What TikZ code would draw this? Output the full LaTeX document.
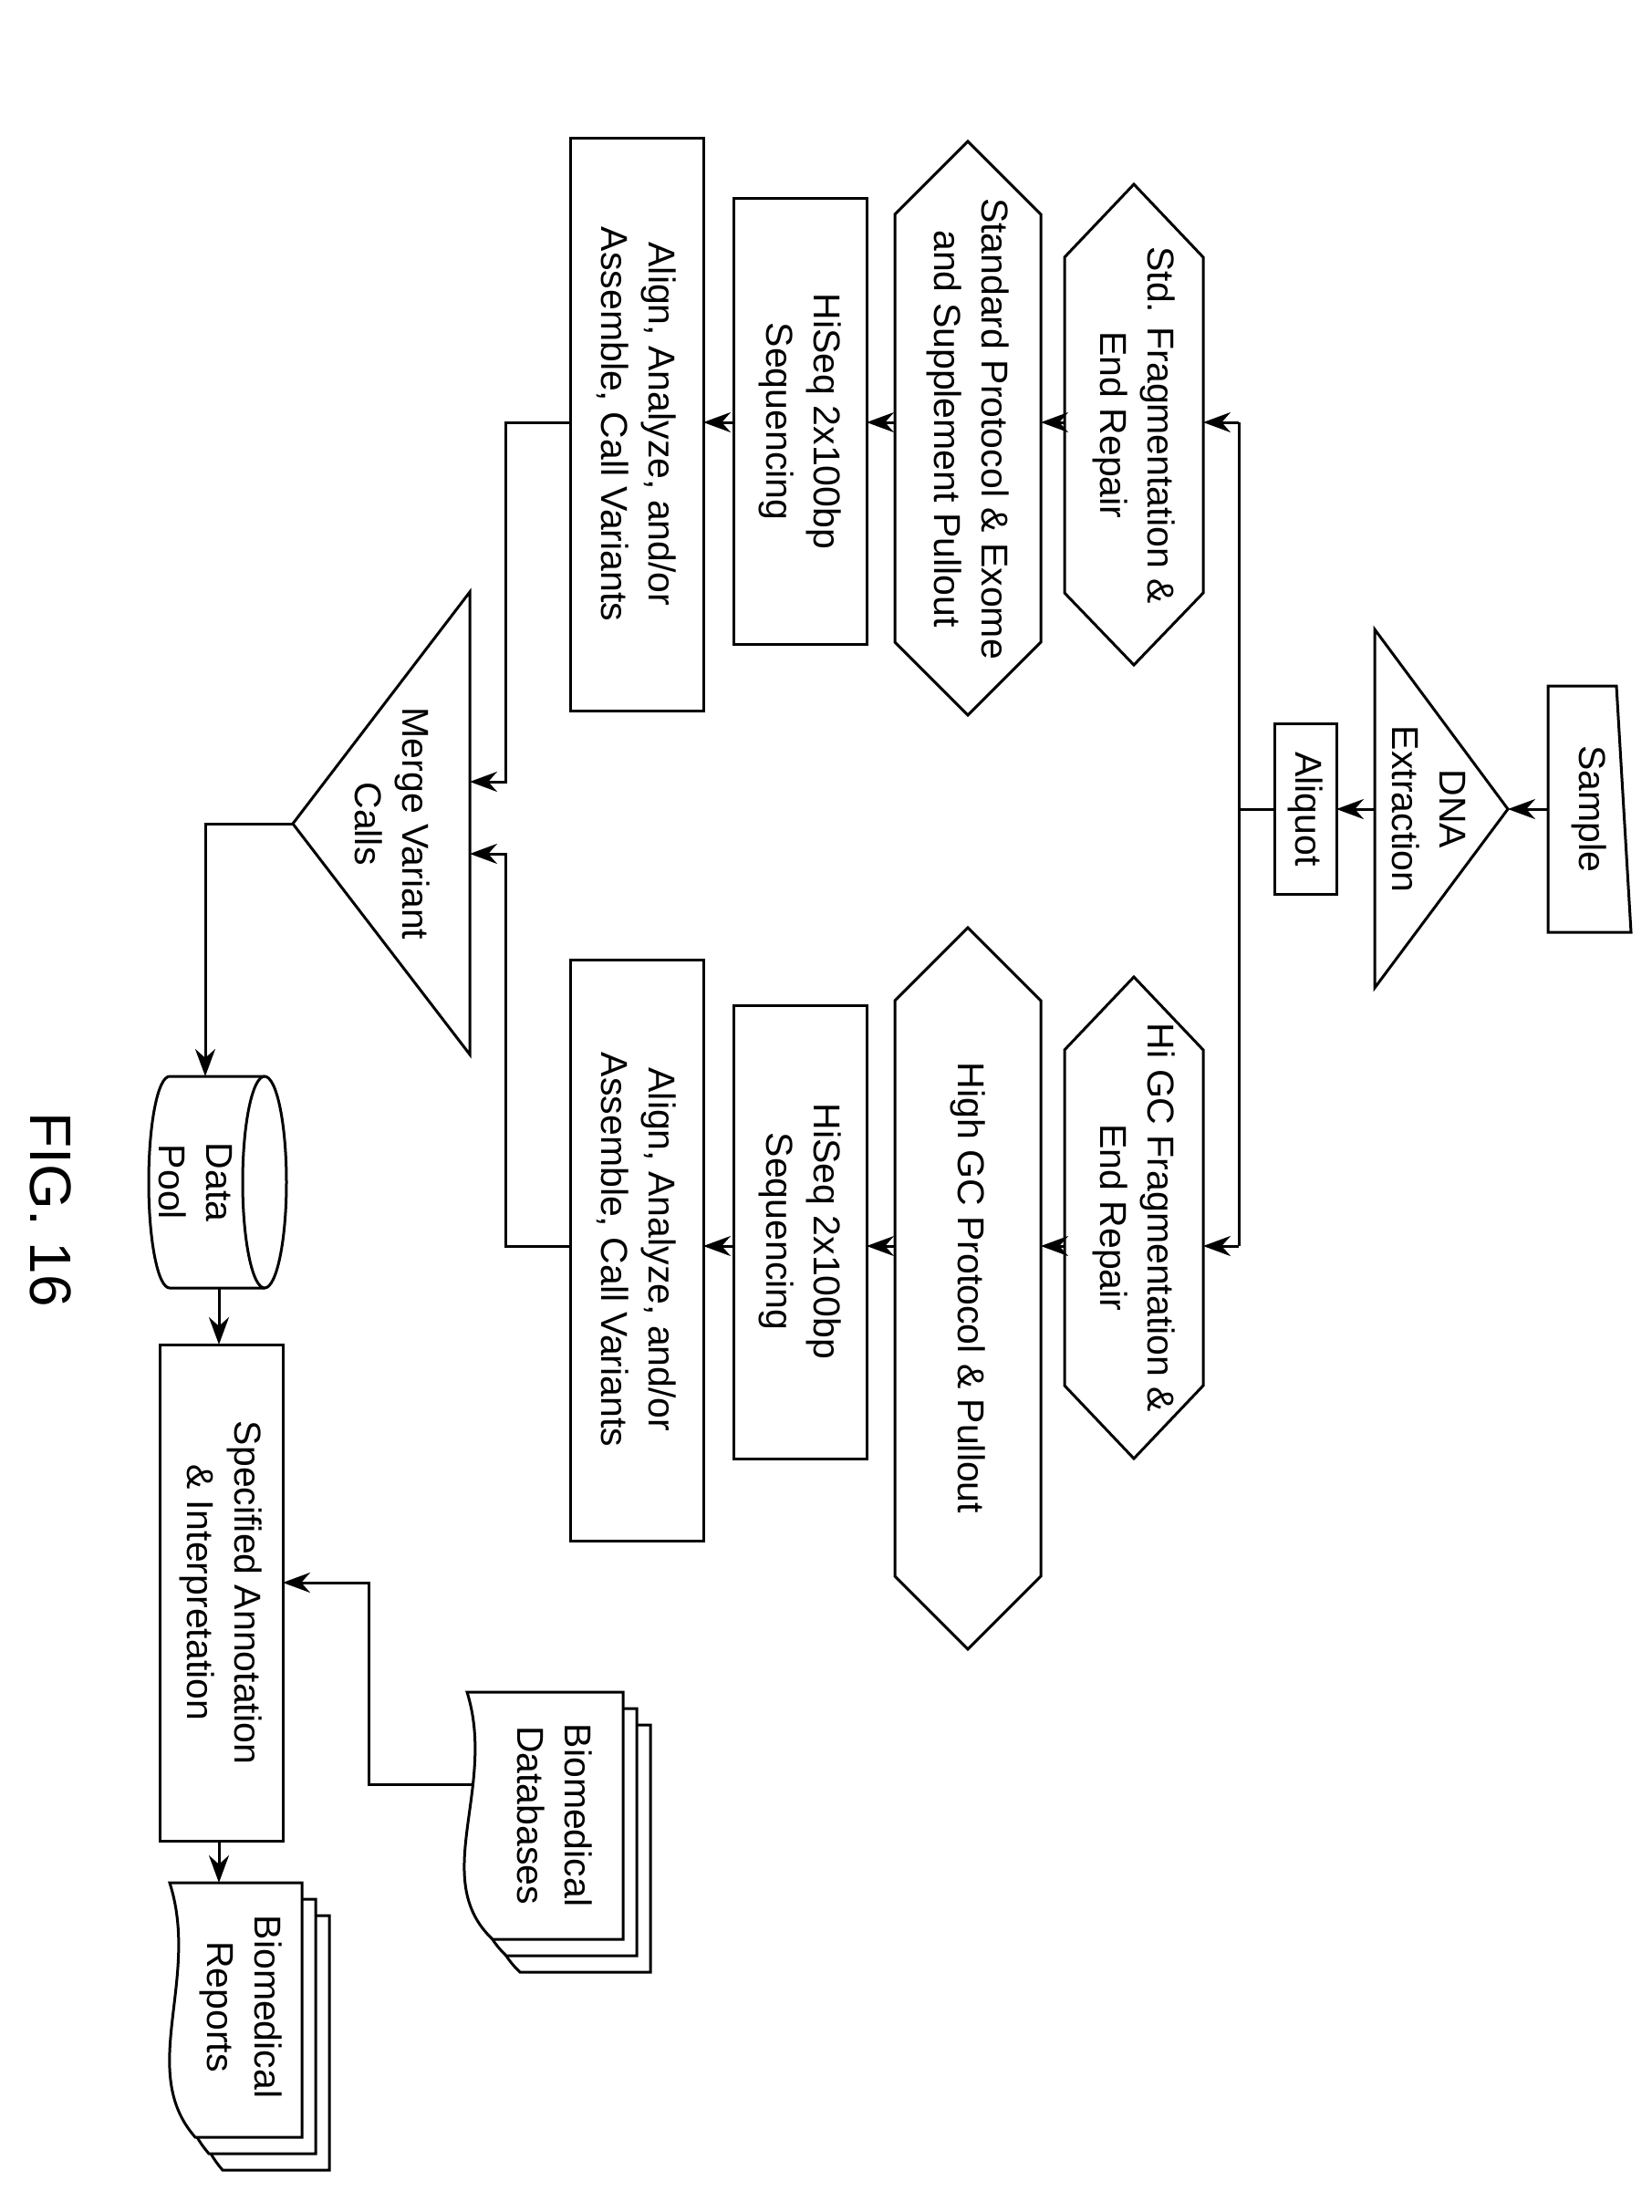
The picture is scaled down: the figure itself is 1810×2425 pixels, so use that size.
\documentclass[tikz,border=0pt]{standalone}
\usepackage{fontspec}
\setmainfont{Liberation Sans}
\usetikzlibrary{arrows.meta}
\begin{document}
\begin{tikzpicture}[x={(1pt,0)},y={(0,-1pt)},
  shp/.style={line width=3pt,line join=miter},
  arr/.style={line width=3pt,-{Stealth[length=30pt,width=22pt]}},
  ln/.style={line width=3pt},
  txt/.style={rotate=-90,align=center,font=\fontsize{41}{52}\selectfont}]
\useasboundingbox (0,0) rectangle (1810,2425);
% Sample
\draw[shp] (1697,752) -- (1772,752) -- (1788,1022) -- (1697,1022) -- cycle;
\node[txt] (sample) at (1742,887) {Sample};
% DNA extraction
\draw[shp] (1653,887) -- (1507,690) -- (1507,1083) -- cycle;
\node[txt] (dna) at (1566,887) {DNA\\Extraction};
% Aliquot
\draw[shp] (1397,793) rectangle (1465,980);
\node[txt] (aliq) at (1431,887) {Aliquot};
% Hexagons fragmentation
\draw[shp] (1243,202) -- (1319,282) -- (1319,650) -- (1243,729) -- (1167,650) -- (1167,282) -- cycle;
\node[txt] (std) at (1243,466) {Std. Fragmentation \&\\End Repair};
\draw[shp] (1243,1071) -- (1319,1151) -- (1319,1519) -- (1243,1599) -- (1167,1519) -- (1167,1151) -- cycle;
\node[txt] (higc) at (1243,1335) {Hi GC Fragmentation \&\\End Repair};
% Protocol hexagons
\draw[shp] (1061,155) -- (1141,235) -- (1141,704) -- (1061,784) -- (981,704) -- (981,235) -- cycle;
\node[txt] (stdp) at (1061,470) {Standard Protocol \& Exome\\and Supplement Pullout};
\draw[shp] (1061,1017) -- (1141,1097) -- (1141,1728) -- (1061,1808) -- (981,1728) -- (981,1097) -- cycle;
\node[txt] (higcp) at (1061,1412) {High GC Protocol \& Pullout};
% HiSeq
\draw[shp] (804,217) rectangle (950,706);
\node[txt] (hs1) at (877,462) {HiSeq 2x100bp\\Sequencing};
\draw[shp] (804,1102) rectangle (950,1599);
\node[txt] (hs2) at (877,1350) {HiSeq 2x100bp\\Sequencing};
% Align
\draw[shp] (625,151) rectangle (771,779);
\node[txt] (al1) at (698,465) {Align, Analyze, and/or\\Assemble, Call Variants};
\draw[shp] (625,1052) rectangle (771,1689);
\node[txt] (al2) at (698,1370) {Align, Analyze, and/or\\Assemble, Call Variants};
% Merge
\draw[shp] (321,903) -- (515,649) -- (515,1156) -- cycle;
\node[txt] (merge) at (430,903) {Merge Variant\\Calls};
% Data pool cylinder
\draw[shp] (290,1180) -- (186,1180) .. controls (173,1180) and (163,1232) .. (163,1296)
  .. controls (163,1360) and (173,1412) .. (186,1412) -- (290,1412);
\draw[shp] (290,1296) ellipse [x radius=24, y radius=116];
\node[txt] (pool) at (214,1296) {Data\\Pool};
% Annotation
\draw[shp] (175,1474) rectangle (310,2018);
\node[txt] (ann) at (242,1746) {Specified Annotation\\\& Interpretation};
% Databases (stacked docs)
\foreach \dx/\dy in {30/36,15/18,0/0}{
\begin{scope}[shift={(\dx,\dy)}]
\draw[shp,fill=white] (683,1855) -- (683,2126) -- (540,2126)
  .. controls (470,2060) and (545,1960) .. (512,1855) -- cycle;
\end{scope}}
\node[txt] (db) at (608,1990) {Biomedical\\Databases};
% Reports
\foreach \dx/\dy in {30/36,15/18,0/0}{
\begin{scope}[shift={(\dx,\dy)}]
\draw[shp,fill=white] (331,2064) -- (331,2343) -- (214,2343)
  .. controls (150,2270) and (220,2170) .. (186,2064) -- cycle;
\end{scope}}
\node[txt] (rep) at (264,2200) {Biomedical\\Reports};
\node[rotate=-90,font=\fontsize{64}{70}\selectfont] (fig) at (56,1326) {FIG. 16};
% connectors
\coordinate (s1) at (1697,887); \coordinate (dA) at (1653,887);
\draw[arr] (s1) -- (dA);
\coordinate (dB) at (1507,887); \coordinate (q1) at (1465,887);
\draw[arr] (dB) -- (q1);
\coordinate (q2) at (1397,887); \coordinate (sp) at (1358,887);
\coordinate (sp1) at (1358,463); \coordinate (sp2) at (1358,1366);
\coordinate (h1) at (1319,463); \coordinate (h2) at (1319,1366);
\draw[ln] (q2) -- (sp); \draw[ln] (sp1) -- (sp2);
\draw[arr] (sp1) -- (h1); \draw[arr] (sp2) -- (h2);
\coordinate (h1b) at (1167,463); \coordinate (p1) at (1141,463);
\coordinate (h2b) at (1167,1366); \coordinate (p2) at (1141,1366);
\draw[arr] (h1b) -- (p1); \draw[arr] (h2b) -- (p2);
\coordinate (p1b) at (981,463); \coordinate (hs1a) at (950,463);
\coordinate (p2b) at (981,1366); \coordinate (hs2a) at (950,1366);
\draw[arr] (p1b) -- (hs1a); \draw[arr] (p2b) -- (hs2a);
\coordinate (hs1b) at (804,463); \coordinate (al1a) at (771,463);
\coordinate (hs2b) at (804,1366); \coordinate (al2a) at (771,1366);
\draw[arr] (hs1b) -- (al1a); \draw[arr] (hs2b) -- (al2a);
\coordinate (al1b) at (625,463); \coordinate (al2b) at (625,1366);
\coordinate (m1) at (515,857); \coordinate (m2) at (515,936);
\draw[arr] (al1b) -- (554,463) -- (554,857) -- (m1);
\draw[arr] (al2b) -- (554,1366) -- (554,936) -- (m2);
\coordinate (mA) at (321,903); \coordinate (pl) at (225,1180);
\draw[arr] (mA) -- (225,903) -- (pl);
\coordinate (plb) at (240,1412); \coordinate (anA) at (240,1474);
\draw[arr] (plb) -- (anA);
\coordinate (dbA) at (518,1956); \coordinate (anR) at (310,1735);
\draw[arr] (dbA) -- (404,1956) -- (404,1735) -- (anR);
\coordinate (anB) at (240,2018); \coordinate (rpA) at (240,2064);
\draw[arr] (anB) -- (rpA);
\end{tikzpicture}
\end{document}
